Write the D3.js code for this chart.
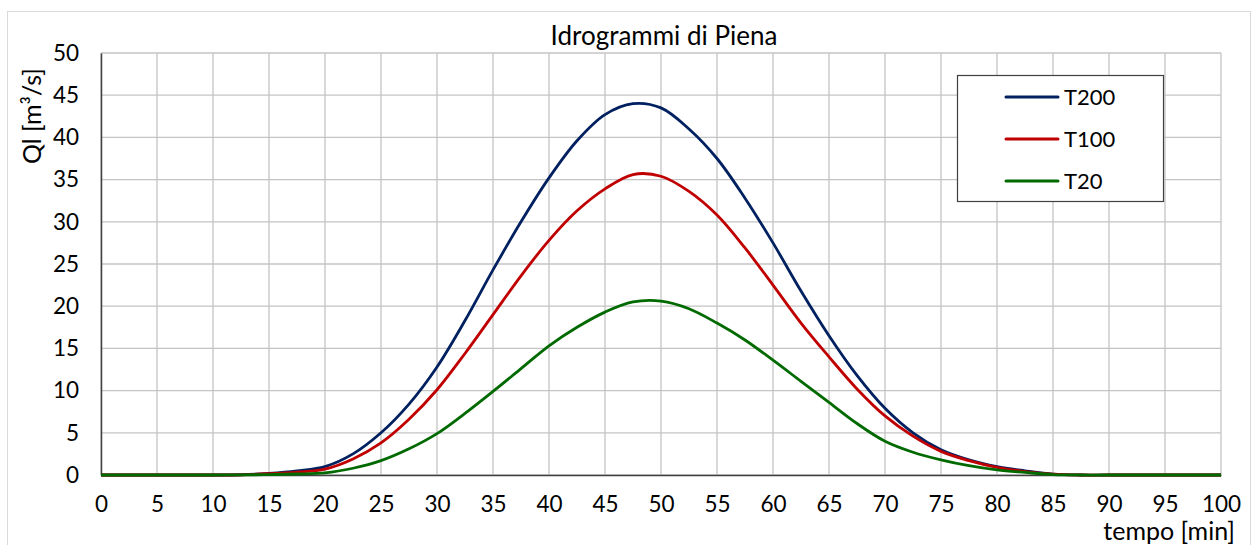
<!DOCTYPE html>
<html>
<head>
<meta charset="utf-8">
<script src="https://cdn.jsdelivr.net/npm/d3@7"></script>
<style>
  html, body { margin: 0; padding: 0; background: #fff; }
  svg { display: block; font-family: Lato, "Open Sans", sans-serif; }
</style>
</head>
<body>
<svg id="chart" width="1255" height="545"></svg>
<script>
// time axis (minutes) shared by every series
const tempo = [0, 5, 10, 12.5, 15, 17.5, 20, 22.5, 25, 27.5, 30, 32.5, 35, 37.5, 40, 42.5, 45, 47.5,
  50, 52.5, 55, 57.5, 60, 62.5, 65, 67.5, 70, 72.5, 75, 77.5, 80, 82.5, 85, 87.5, 90, 95, 100];

// discharge values [m3/s]
const t200 = [0, 0, 0, 0.03, 0.2, 0.5, 1.0, 2.5, 5.0, 8.4, 12.8, 18.3, 24.3, 30.0, 35.2, 39.6, 42.7, 44.0,
  43.5, 41.0, 37.5, 32.8, 27.5, 21.8, 16.5, 11.8, 7.9, 5.0, 3.0, 1.8, 1.0, 0.5, 0.1, 0, 0, 0, 0];
const t100 = [0, 0, 0, 0.02, 0.15, 0.35, 0.7, 1.9, 3.8, 6.6, 10.1, 14.4, 19.0, 23.6, 27.8, 31.3, 33.9, 35.6,
  35.4, 33.6, 30.8, 26.9, 22.5, 18.0, 14.0, 10.2, 7.0, 4.6, 2.8, 1.7, 0.9, 0.4, 0.1, 0, 0, 0, 0];
const t20 = [0, 0, 0, 0.01, 0.05, 0.12, 0.25, 0.8, 1.7, 3.1, 4.9, 7.3, 9.9, 12.6, 15.3, 17.5, 19.3, 20.5,
  20.6, 19.7, 18.0, 16.0, 13.6, 11.1, 8.6, 6.1, 4.0, 2.7, 1.8, 1.1, 0.6, 0.3, 0.05, 0, 0, 0, 0];

const seriesNames = ["T200", "T100", "T20"];
const seriesColors = ["#002060", "#c00000", "#006a00"];
const seriesValues = [t200, t100, t20];

const xTicks = d3.range(0, 101, 5);
const yTicks = d3.range(0, 51, 5);

const svg = d3.select("#chart");
const margin = { left: 101, right: 34, top: 53, bottom: 70 };
const width = 1255, height = 545;

const x = d3.scaleLinear().domain([0, 100]).range([margin.left, width - margin.right]);
const y = d3.scaleLinear().domain([0, 50]).range([height - margin.bottom, margin.top]);

// chart frame
svg.append("rect")
  .attr("x", 7.5).attr("y", 11.5)
  .attr("width", 1243).attr("height", 560)
  .attr("fill", "#fff").attr("stroke", "#d9d9d9").attr("stroke-width", 1);

// gridlines
svg.append("g")
  .selectAll("line")
  .data(xTicks)
  .join("line")
  .attr("x1", (d) => x(d)).attr("x2", (d) => x(d))
  .attr("y1", y(0)).attr("y2", y(50))
  .attr("stroke", "#c4c4c4").attr("stroke-width", 1.3);
svg.append("g")
  .selectAll("line")
  .data(yTicks)
  .join("line")
  .attr("x1", x(0)).attr("x2", x(100))
  .attr("y1", (d) => y(d)).attr("y2", (d) => y(d))
  .attr("stroke", "#c4c4c4").attr("stroke-width", 1.3);

// axes
const xAxis = svg.append("g")
  .attr("transform", `translate(0,${y(0)})`)
  .call(d3.axisBottom(x).tickValues(xTicks).tickSize(0).tickPadding(21));
const yAxis = svg.append("g")
  .attr("transform", `translate(${x(0)},0)`)
  .call(d3.axisLeft(y).tickValues(yTicks).tickSize(0).tickPadding(22));
[xAxis, yAxis].forEach((g) => {
  g.select(".domain").attr("stroke", "#404040").attr("stroke-width", 1.5);
  g.selectAll("text").attr("font-family", "Lato, sans-serif").attr("font-size", 22.5).attr("fill", "#000");
});

// lines
const line = d3.line()
  .x((d, i) => x(tempo[i]))
  .y((d) => y(d))
  .curve(d3.curveCatmullRom.alpha(0.5));

svg.append("g")
  .selectAll("path")
  .data(seriesValues)
  .join("path")
  .attr("d", (d) => line(d))
  .attr("fill", "none")
  .attr("stroke", (d, i) => seriesColors[i])
  .attr("stroke-width", 2.8)
  .attr("stroke-linejoin", "round");

// title & axis labels
svg.append("text")
  .attr("x", 664).attr("y", 45)
  .attr("text-anchor", "middle")
  .attr("font-size", 26)
  .text("Idrogrammi di Piena");

svg.append("text")
  .attr("transform", "translate(41,116) rotate(-90)")
  .attr("text-anchor", "middle")
  .attr("font-size", 25)
  .text("Ql [m³/s]");

svg.append("text")
  .attr("x", 1235).attr("y", 540)
  .attr("text-anchor", "end")
  .attr("font-size", 25)
  .text("tempo [min]");

// legend
const legend = svg.append("g");
legend.append("rect")
  .attr("x", 957.5).attr("y", 75.5)
  .attr("width", 206).attr("height", 126)
  .attr("fill", "#fff").attr("stroke", "#404040").attr("stroke-width", 1.2);
const rows = legend.selectAll("g.row")
  .data(seriesNames)
  .join("g")
  .attr("class", "row")
  .attr("transform", (d, i) => `translate(0,${97 + i * 42})`);
rows.append("line")
  .attr("x1", 1006).attr("x2", 1058)
  .attr("stroke", (d, i) => seriesColors[i])
  .attr("stroke-width", 3)
  .attr("stroke-linecap", "round");
rows.append("text")
  .attr("x", 1064).attr("dy", "0.36em")
  .attr("font-size", 22)
  .text((d) => d);
</script>
</body>
</html>
